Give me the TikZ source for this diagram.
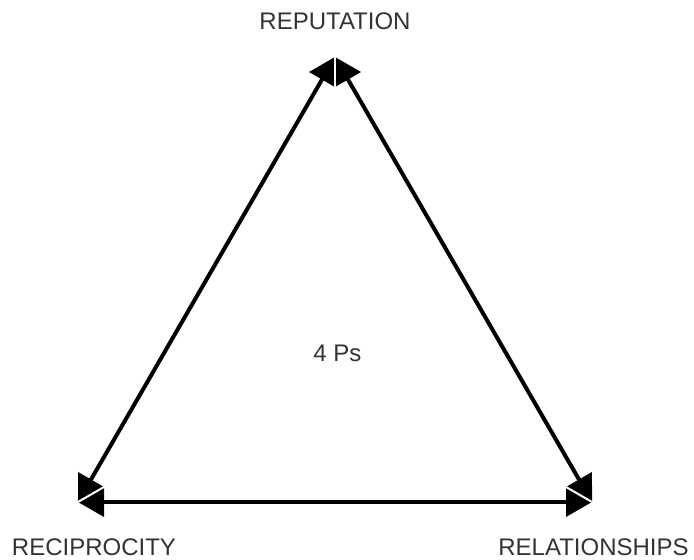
\documentclass[tikz,border=0pt]{standalone}
\usepackage{fontspec}
\setmainfont{Liberation Sans}
\definecolor{labelgray}{HTML}{333333}
\begin{document}
\begin{tikzpicture}[x=1pt,y=1pt,
  label/.style={text=labelgray, font=\fontsize{24}{28}\selectfont, inner sep=0pt, text depth=0pt, anchor=base},
  link/.style={line width=4pt, shorten <=12pt, shorten >=12pt},
  rim/.style={white, line width=2pt},
  head/.pic={\fill[black] (0,0) -- (-26,15) -- (-26,-15) -- cycle;}]
\useasboundingbox (0,0) rectangle (694,560);

% corners of the triangle
\coordinate (cTop) at (335,503);
\coordinate (cBL) at (78,58);
\coordinate (cBR) at (592,58);

% labels
\node[label] (reput) at (335,530) {REPUTATION};
\node[label] (recip) at (94,4) {RECIPROCITY};
\node[label] (relat) at (593.5,4) {RELATIONSHIPS};
\node[label] (fourps) at (337.5,198) {4 Ps};

% left side
\draw[link] (cBL) -- (cTop);
\pic[rotate=60] at (cTop) {head};
\pic[rotate=240] at (cBL) {head};

% right side
\draw[link] (cBR) -- (cTop);
\pic[rotate=120] at (cTop) {head};
\pic[rotate=-60] at (cBR) {head};

% base
\draw[link] (cBL) -- (cBR);
\pic[rotate=180] at (cBL) {head};
\pic at (cBR) {head};

% thin white seams between touching heads
\draw[rim] (cTop) -- ++(270:30);
\draw[rim] (cBL) -- ++(30:30);
\draw[rim] (cBR) -- ++(150:30);
\end{tikzpicture}
\end{document}
